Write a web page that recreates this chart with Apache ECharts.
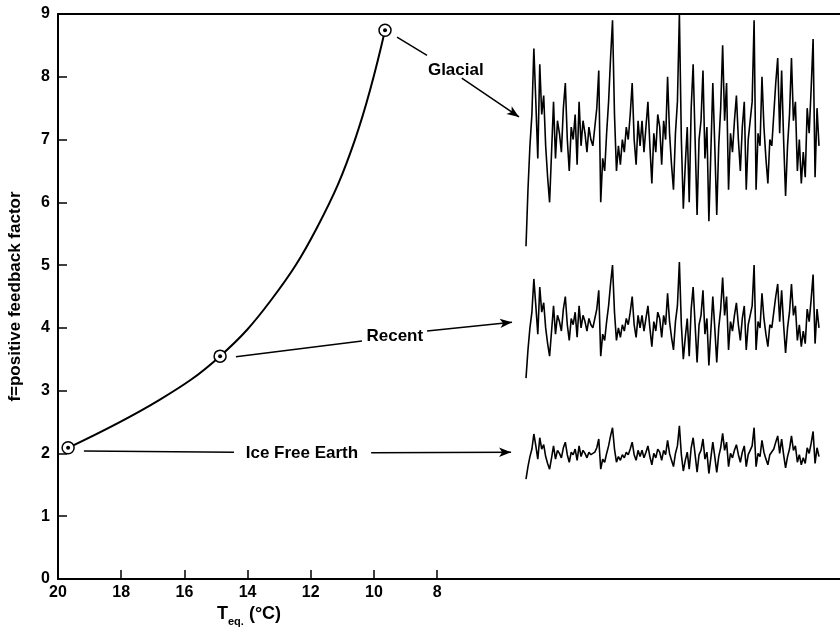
<!DOCTYPE html>
<html lang="en" style="height: 100%">
<head>
  <meta charset="utf-8">
</head>
<body style="height: 100%; margin: 0; background: #fff">
  <div id="container" style="width: 840px; height: 628px"></div>

  <script type="text/javascript" src="https://fastly.jsdelivr.net/npm/echarts@6/dist/echarts.min.js"></script>
  <script type="text/javascript">
    // feedback curve f(T_eq)
    var curveT = [19.68, 16.8, 14.87, 13.26, 11.8, 10.6, 9.65];
    var curveF = [2.09, 2.85, 3.55, 4.44, 5.6, 7.0, 8.74];
    // the three marked states
    var stateT = [19.68, 14.87, 9.65];
    var stateF = [2.09, 3.55, 8.74];

    var xTicks = [8, 10, 12, 14, 16, 18, 20];

    // time series on the right (arbitrary time units)
    var glacial = [
      5.3, 6.2, 6.9, 7.4, 8.45, 7.6, 6.7, 8.2, 7.4, 7.7,
      6.9, 6.4, 6.0, 6.8, 7.6, 6.7, 7.3, 7.1, 6.8, 7.5,
      7.9, 7.0, 6.5, 7.2, 7.0, 7.4, 6.6, 7.6, 6.9, 7.3,
      7.1, 6.8, 7.2, 7.0, 6.9, 7.2, 7.5, 8.1, 6.0, 6.7,
      6.5, 7.1, 7.6, 8.3, 8.9, 7.4, 6.5, 6.9, 6.6, 7.0,
      6.8, 7.2, 7.0, 7.4, 7.9, 7.0, 6.6, 7.3, 6.9, 7.3,
      6.8, 7.2, 7.6, 6.9, 6.3, 7.1, 6.8, 7.4, 7.2, 6.6,
      7.3, 7.0, 8.0, 7.1, 6.6, 6.2, 7.1, 7.6, 9.0, 7.0,
      5.9, 6.6, 7.2, 6.0, 7.5, 8.2, 7.0, 5.8, 7.0, 7.3,
      8.1, 6.7, 7.2, 5.7, 6.8, 7.9, 6.9, 5.8, 6.9, 7.5,
      8.5, 7.3, 7.9, 6.2, 7.1, 6.8, 7.3, 7.7, 7.0, 6.5,
      7.2, 7.6, 6.2, 7.0, 7.3, 7.6, 8.9, 6.2, 7.1, 6.9,
      8.0, 7.2, 6.7, 6.3, 7.0, 6.9, 7.4, 7.9, 8.3, 7.1,
      8.1, 7.0, 6.1, 6.9, 7.4, 8.3, 7.3, 7.6, 6.5, 7.0,
      6.3, 6.8, 6.4, 7.5, 7.1, 7.8, 8.6, 6.4, 7.5, 6.9
    ];
    var recent = [
      3.20, 3.65, 4.00, 4.25, 4.78, 4.35, 3.90, 4.65, 4.25, 4.40,
      4.00, 3.75, 3.55, 3.95, 4.35, 3.90, 4.20, 4.10, 3.95, 4.30,
      4.50, 4.05, 3.80, 4.15, 4.05, 4.25, 3.85, 4.35, 4.00, 4.20,
      4.10, 3.95, 4.15, 4.05, 4.00, 4.15, 4.30, 4.60, 3.55, 3.90,
      3.80, 4.10, 4.35, 4.70, 5.00, 4.25, 3.80, 4.00, 3.85, 4.05,
      3.95, 4.15, 4.05, 4.25, 4.50, 4.05, 3.85, 4.20, 4.00, 4.20,
      3.95, 4.15, 4.35, 4.00, 3.70, 4.10, 3.95, 4.25, 4.15, 3.85,
      4.20, 4.05, 4.55, 4.10, 3.85, 3.65, 4.10, 4.35, 5.05, 4.05,
      3.50, 3.85, 4.15, 3.55, 4.30, 4.65, 4.05, 3.45, 4.05, 4.20,
      4.60, 3.90, 4.15, 3.40, 3.95, 4.50, 4.00, 3.45, 4.00, 4.30,
      4.80, 4.20, 4.50, 3.65, 4.10, 3.95, 4.20, 4.40, 4.05, 3.80,
      4.15, 4.35, 3.65, 4.05, 4.20, 4.35, 5.00, 3.65, 4.10, 4.00,
      4.55, 4.15, 3.90, 3.70, 4.05, 4.00, 4.25, 4.50, 4.70, 4.10,
      4.60, 4.05, 3.60, 4.00, 4.25, 4.70, 4.20, 4.35, 3.80, 4.05,
      3.70, 3.95, 3.75, 4.30, 4.10, 4.45, 4.85, 3.75, 4.30, 4.00
    ];
    var iceFree = [
      1.59, 1.79, 1.95, 2.07, 2.31, 2.12, 1.91, 2.25, 2.07, 2.14,
      1.95, 1.84, 1.75, 1.93, 2.12, 1.91, 2.05, 2.00, 1.93, 2.09,
      2.18, 1.98, 1.86, 2.02, 1.98, 2.07, 1.89, 2.12, 1.95, 2.05,
      2.00, 1.93, 2.02, 1.98, 1.95, 2.02, 2.09, 2.23, 1.75, 1.91,
      1.86, 2.00, 2.12, 2.28, 2.41, 2.07, 1.86, 1.95, 1.89, 1.98,
      1.93, 2.02, 1.98, 2.07, 2.18, 1.98, 1.89, 2.05, 1.95, 2.05,
      1.93, 2.02, 2.12, 1.95, 1.82, 2.00, 1.93, 2.07, 2.02, 1.89,
      2.05, 1.98, 2.21, 2.00, 1.89, 1.79, 2.00, 2.12, 2.44, 1.98,
      1.72, 1.89, 2.02, 1.75, 2.09, 2.25, 1.98, 1.70, 1.98, 2.05,
      2.23, 1.91, 2.02, 1.68, 1.93, 2.18, 1.95, 1.70, 1.95, 2.09,
      2.32, 2.05, 2.18, 1.79, 2.00, 1.93, 2.05, 2.14, 1.98, 1.86,
      2.02, 2.12, 1.79, 1.98, 2.05, 2.12, 2.41, 1.79, 2.00, 1.95,
      2.21, 2.02, 1.91, 1.82, 1.98, 1.95, 2.07, 2.18, 2.28, 2.00,
      2.23, 1.98, 1.77, 1.95, 2.07, 2.28, 2.05, 2.12, 1.86, 1.98,
      1.82, 1.93, 1.84, 2.09, 2.00, 2.16, 2.35, 1.84, 2.09, 1.95
    ];

    // annotation labels and leader lines, in (T, f) data space
    var labelNames = ['Glacial', 'Recent', 'Ice Free Earth'];
    var labelPos = [[7.41, 8.10], [9.34, 3.87], [12.28, 2.01]];
    var leaders = [
      [[9.27, 8.63], [8.32, 8.34], false],
      [[7.22, 7.98], [5.41, 7.36], true],
      [[14.37, 3.54], [10.38, 3.79], false],
      [[8.32, 3.95], [5.63, 4.09], true],
      [[19.18, 2.04], [14.43, 2.02], false],
      [[10.09, 2.01], [5.66, 2.02], true]
    ];

    var ink = '#000';
    var font = 'Liberation Sans, Arial, Helvetica, sans-serif';

    var dom = document.getElementById('container');
    var myChart = echarts.init(dom, null, { renderer: 'canvas' });

    var timeIdx = glacial.map(function (_, i) { return i; });

    var option = {
      animation: false,
      backgroundColor: '#fff',
      textStyle: { fontFamily: font, color: ink },
      title: {
        left: 212,
        top: 596,
        text: '{t|T}{s|eq.}{t| (°C)}',
        textStyle: {
          rich: {
            t: { fontSize: 18, fontWeight: 'bold', fontFamily: font, color: ink, lineHeight: 26 },
            s: { fontSize: 11, fontWeight: 'bold', fontFamily: font, color: ink, lineHeight: 12, verticalAlign: 'bottom' }
          }
        }
      },
      grid: [
        { left: 58, right: 0, top: 14, bottom: 49, containLabel: false, outerBoundsMode: 'none' },
        { left: 526, right: 21, top: 14, bottom: 49, containLabel: false, outerBoundsMode: 'none' }
      ],
      xAxis: [
        {
          type: 'value',
          gridIndex: 0,
          inverse: true,
          min: -4.75,
          max: 20,
          axisLine: { onZero: false, lineStyle: { color: ink, width: 2 } },
          axisTick: { inside: true, length: 9, lineStyle: { color: ink, width: 1.5 }, customValues: xTicks },
          axisLabel: {
            customValues: xTicks, color: ink, fontSize: 16, fontWeight: 'bold', fontFamily: font, margin: 6
          },
          splitLine: { show: false }
        },
        {
          type: 'value',
          gridIndex: 0,
          position: 'top',
          min: 0,
          max: 1,
          axisLine: { show: true, onZero: false, lineStyle: { color: ink, width: 2 } },
          axisTick: { show: false },
          axisLabel: { show: false },
          splitLine: { show: false }
        },
        {
          type: 'category',
          gridIndex: 1,
          data: timeIdx,
          boundaryGap: false,
          show: false
        }
      ],
      yAxis: [
        {
          type: 'value',
          gridIndex: 0,
          min: 0,
          max: 9,
          interval: 1,
          name: 'f=positive feedback factor',
          nameLocation: 'middle',
          nameGap: 34,
          nameTextStyle: { fontSize: 17, fontWeight: 'bold', fontFamily: font, color: ink },
          axisLine: { show: true, onZero: false, lineStyle: { color: ink, width: 2 } },
          axisTick: { show: true, inside: true, length: 9, lineStyle: { color: ink, width: 1.5 } },
          axisLabel: { color: ink, fontSize: 16, fontWeight: 'bold', fontFamily: font, margin: 8 },
          splitLine: { show: false }
        },
        {
          type: 'value',
          gridIndex: 1,
          min: 0,
          max: 9,
          show: false
        }
      ],
      series: [
        {
          type: 'line',
          name: 'feedback',
          xAxisIndex: 0,
          yAxisIndex: 0,
          smooth: 0.4,
          showSymbol: false,
          lineStyle: { color: ink, width: 2 },
          data: curveT.map(function (t, i) { return [t, curveF[i]]; }),
          markLine: {
            silent: true,
            symbol: ['none', 'none'],
            label: { show: false },
            lineStyle: { color: ink, width: 1.5, type: 'solid' },
            data: leaders.map(function (l) {
              return [
                { coord: l[0], symbol: 'none' },
                { coord: l[1], symbol: l[2] ? 'arrow' : 'none', symbolSize: l[2] ? [7, 12] : 0 }
              ];
            })
          }
        },
        {
          type: 'scatter',
          name: 'states',
          xAxisIndex: 0,
          yAxisIndex: 0,
          symbol: 'circle',
          symbolSize: 12,
          itemStyle: { color: '#fff', borderColor: ink, borderWidth: 1.5, opacity: 1 },
          data: stateT.map(function (t, i) { return [t, stateF[i]]; }),
          z: 3
        },
        {
          type: 'scatter',
          name: 'stateDots',
          xAxisIndex: 0,
          yAxisIndex: 0,
          symbolSize: 4,
          itemStyle: { color: ink, opacity: 1 },
          data: stateT.map(function (t, i) { return [t, stateF[i]]; }),
          z: 4
        },
        {
          type: 'scatter',
          name: 'labels',
          xAxisIndex: 0,
          yAxisIndex: 0,
          symbolSize: 0,
          itemStyle: { color: 'rgba(255,255,255,0)', opacity: 1 },
          label: {
            show: true,
            position: [0, 0],
            align: 'center',
            verticalAlign: 'middle',
            formatter: function (p) { return labelNames[p.dataIndex]; },
            color: ink,
            opacity: 1,
            textBorderWidth: 0,
            fontSize: 17,
            fontWeight: 'bold',
            fontFamily: font
          },
          data: labelPos
        },
        {
          type: 'line', name: 'Glacial', xAxisIndex: 2, yAxisIndex: 1,
          showSymbol: false, lineStyle: { color: ink, width: 1.6 }, data: glacial
        },
        {
          type: 'line', name: 'Recent', xAxisIndex: 2, yAxisIndex: 1,
          showSymbol: false, lineStyle: { color: ink, width: 1.6 }, data: recent
        },
        {
          type: 'line', name: 'Ice Free Earth', xAxisIndex: 2, yAxisIndex: 1,
          showSymbol: false, lineStyle: { color: ink, width: 1.6 }, data: iceFree
        }
      ]
    };

    myChart.setOption(option);
    window.addEventListener('resize', myChart.resize);
  </script>
</body>
</html>
